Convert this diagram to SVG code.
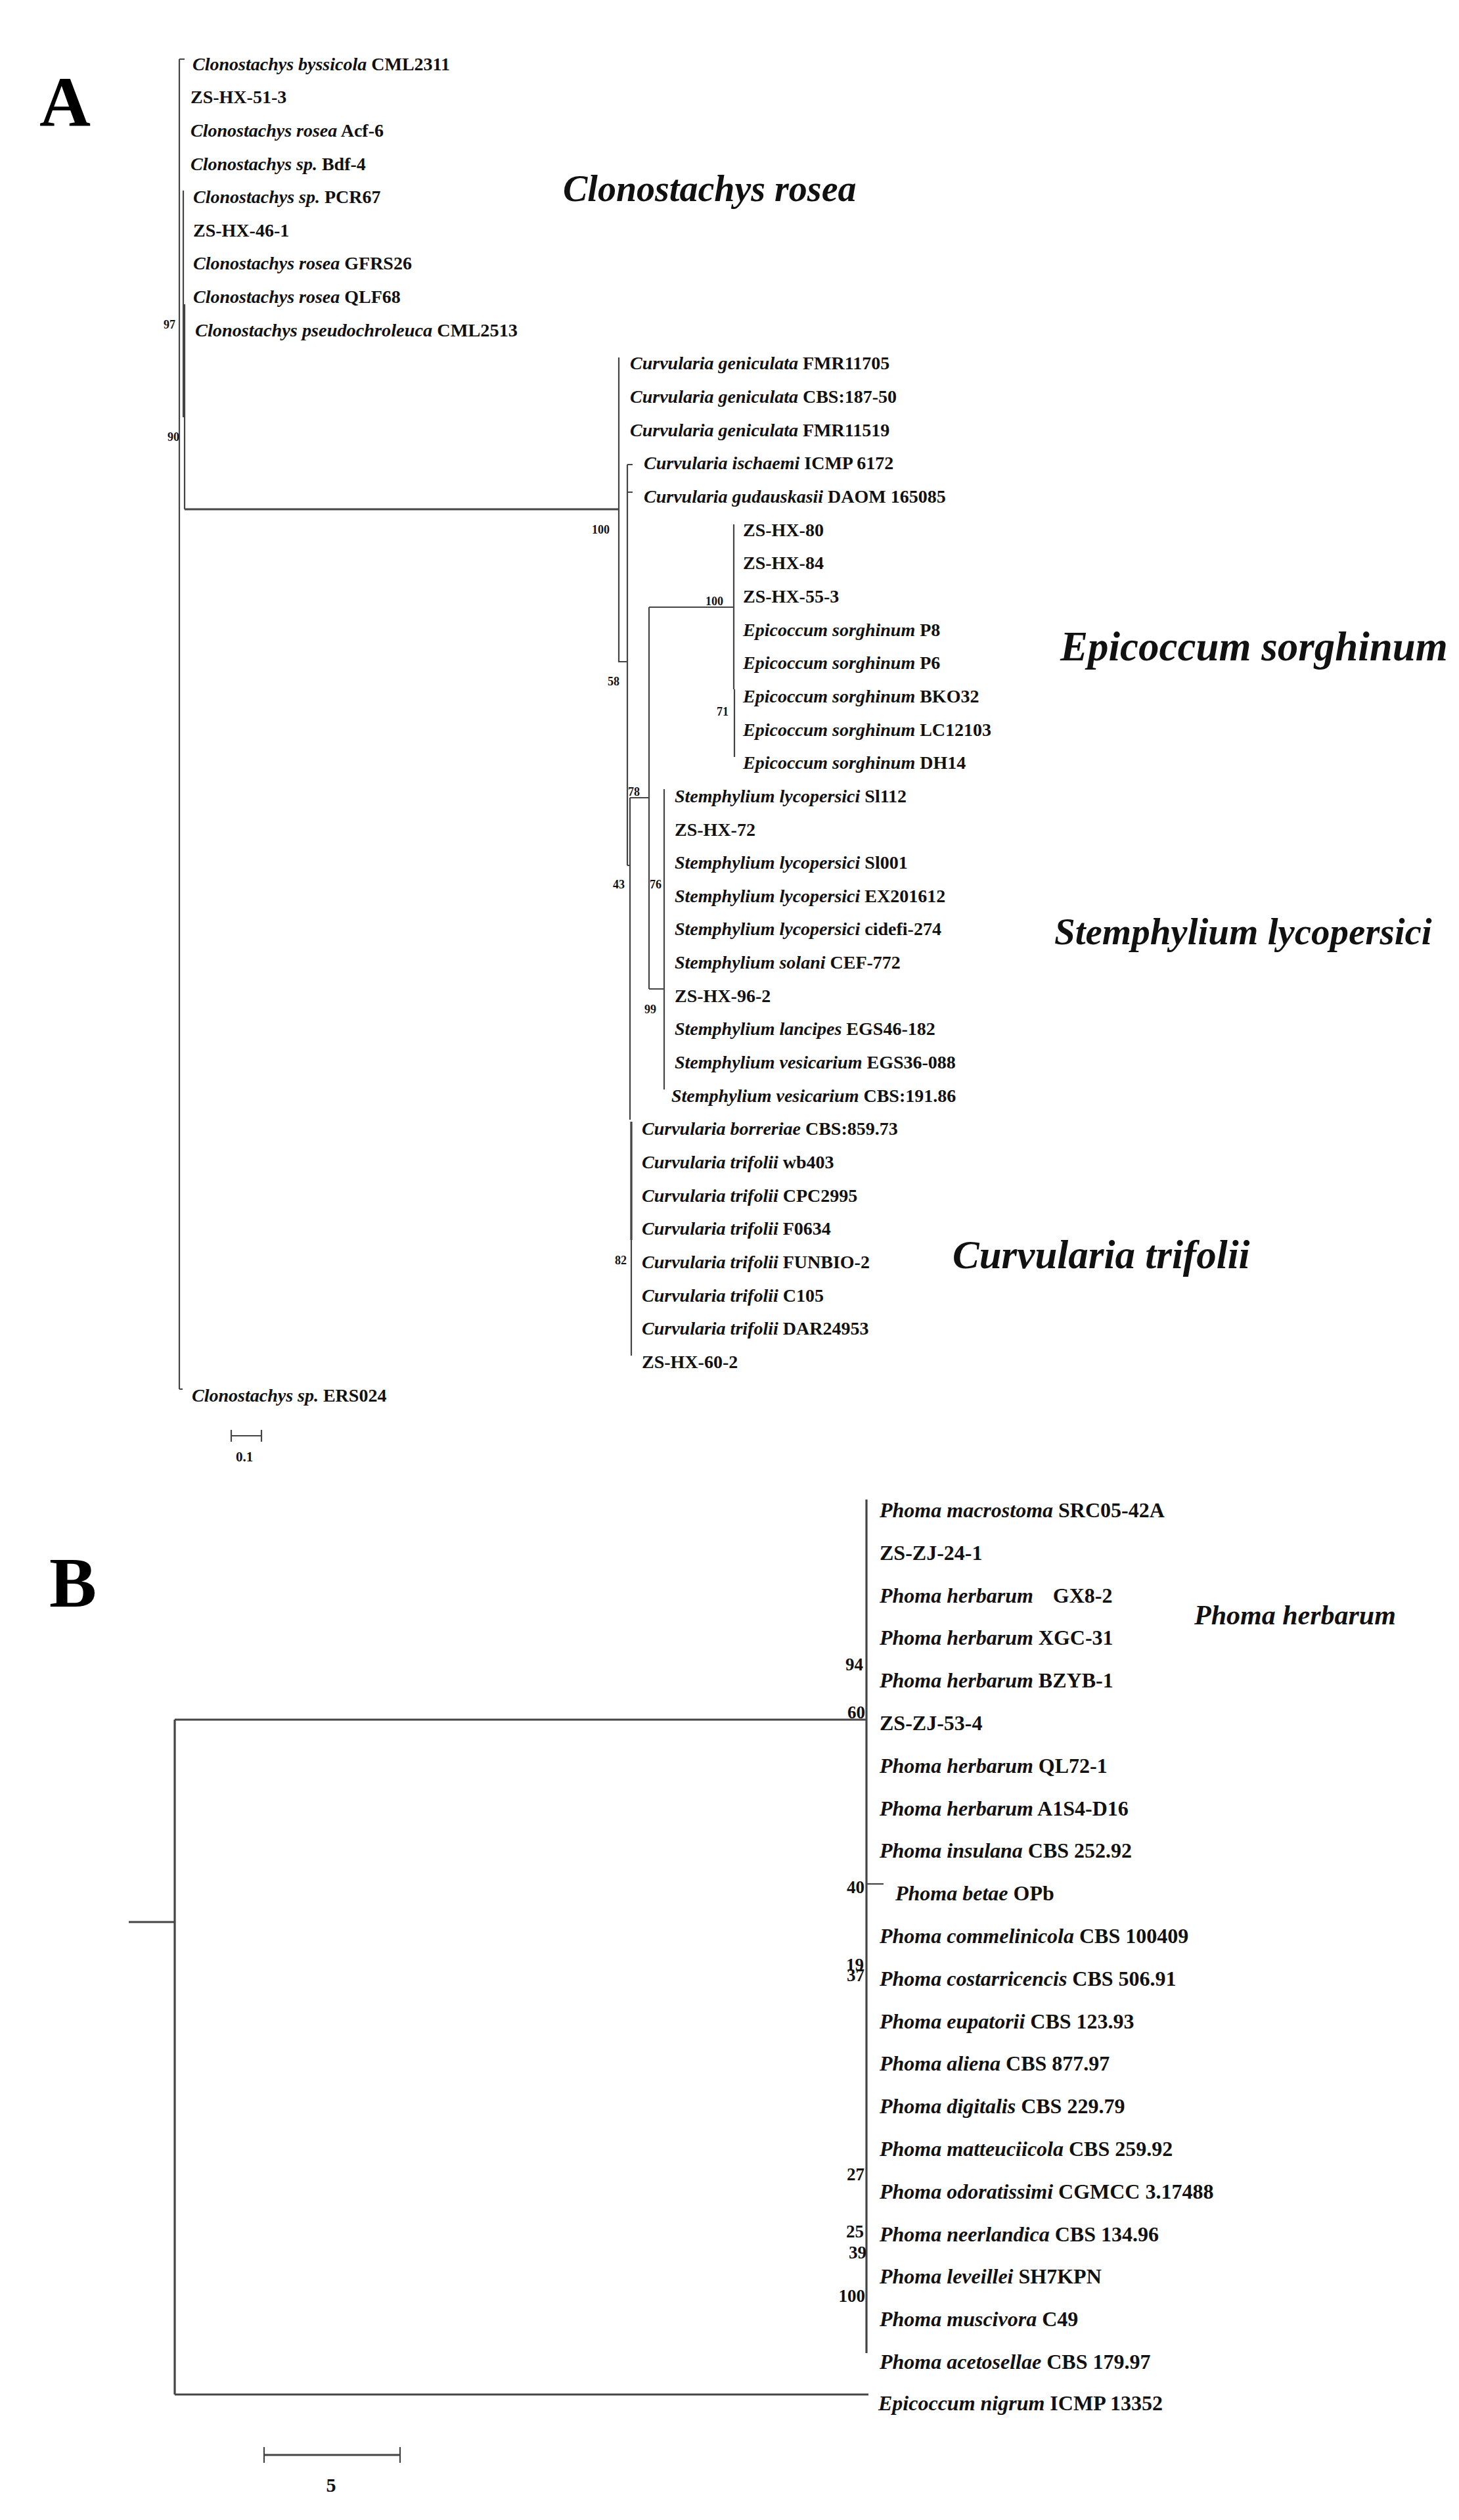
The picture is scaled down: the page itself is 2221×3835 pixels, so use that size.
<svg xmlns="http://www.w3.org/2000/svg" width="2221" height="3835" viewBox="0 0 2221 3835">
<style>
.t{font-family:"Liberation Serif","Times New Roman",serif;font-weight:bold;fill:#111}
.ta{font-size:28px}
.tb{font-size:32px}
.i{font-style:italic}
.sa{font-family:"Liberation Serif","Times New Roman",serif;font-weight:bold;font-size:18px;fill:#111;text-anchor:end}
.sb{font-family:"Liberation Serif","Times New Roman",serif;font-weight:bold;font-size:27px;fill:#111;text-anchor:end}
.grp{font-family:"Liberation Serif","Times New Roman",serif;font-weight:bold;font-style:italic;font-size:58px;fill:#111}
.pl{font-family:"Liberation Serif","Times New Roman",serif;font-weight:bold;font-size:108px;fill:#000}
.br{stroke:#444;stroke-width:2.2;fill:none}
.bw{stroke:#444;stroke-width:3.2;fill:none}
</style>
<rect width="2221" height="3835" fill="#fff"/>
<text class="pl" x="60" y="192">A</text>
<text class="pl" x="75" y="2445">B</text>

<g id="connectors">
<!-- Panel A -->
<path class="br" d="M273 90V2114M273 90h8M273 2114h5"/>
<path class="br" d="M279 290V635M281 463V775"/>
<path class="bw" d="M281 775H942"/>
<path class="br" d="M942 544V1007H955M955 707V1317M955 707h8M955 749h8M955 1317h4"/>
<path class="br" d="M959 1214V1704M959 1214H988M988 924V1505"/>
<path class="br" d="M988 924H1117M1117 798V1049M1118 1049V1152"/>
<path class="br" d="M988 1505H1011M1011 1201V1658"/>
<path class="br" d="M961 1707V2063"/>
<path class="bw" d="M961 1707V1887"/>
<!-- scale A -->
<path class="br" d="M352 2185H398M352 2176V2194M398 2176V2194"/>
<!-- Panel B -->
<path class="bw" d="M196 2925H266M266 2617V3644M266 2617H1319M266 3644H1322"/>
<path class="bw" d="M1319 2282V3581"/>
<path class="br" d="M1320 2867H1345"/>
<!-- scale B -->
<path class="bw" d="M402 3736H609"/>
<path class="br" d="M402 3724V3748M609 3724V3748"/>
</g>

<g id="support">
<text class="sa" x="267" y="500">97</text>
<text class="sa" x="273" y="671">90</text>
<text class="sa" x="928" y="812">100</text>
<text class="sa" x="943" y="1043">58</text>
<text class="sa" x="1101" y="921">100</text>
<text class="sa" x="1109" y="1089">71</text>
<text class="sa" x="974" y="1211">78</text>
<text class="sa" x="951" y="1352">43</text>
<text class="sa" x="1007" y="1352">76</text>
<text class="sa" x="999" y="1542">99</text>
<text class="sa" x="954" y="1924">82</text>
<text class="sb" x="1314" y="2542">94</text>
<text class="sb" x="1317" y="2615">60</text>
<text class="sb" x="1316" y="2881">40</text>
<text class="sb" x="1315" y="2999">19</text>
<text class="sb" x="1316" y="3015">37</text>
<text class="sb" x="1316" y="3318">27</text>
<text class="sb" x="1315" y="3405">25</text>
<text class="sb" x="1319" y="3437">39</text>
<text class="sb" x="1317" y="3503">100</text>
</g>

<g id="groups">
<text class="grp" x="857" y="306" style="font-size:56px">Clonostachys rosea</text>
<text class="grp" x="1614" y="1005" style="font-size:63px">Epicoccum sorghinum</text>
<text class="grp" x="1605" y="1437" style="font-size:57px">Stemphylium lycopersici</text>
<text class="grp" x="1450" y="1930" style="font-size:61px">Curvularia trifolii</text>
<text class="grp" x="1818" y="2472" style="font-size:42px">Phoma herbarum</text>
</g>

<g id="taxaA">
<g id="a1"><text class="t ta" x="293" y="106.5"><tspan class="i">Clonostachys byssicola</tspan> CML2311</text></g>
<g id="a2"><text class="t ta" x="290" y="157.2">ZS-HX-51-3</text></g>
<g id="a3"><text class="t ta" x="290" y="207.8"><tspan class="i">Clonostachys rosea</tspan> Acf-6</text></g>
<g id="a4"><text class="t ta" x="290" y="258.5"><tspan class="i">Clonostachys sp.</tspan> Bdf-4</text></g>
<g id="a5"><text class="t ta" x="294" y="309.1"><tspan class="i">Clonostachys sp.</tspan> PCR67</text></g>
<g id="a6"><text class="t ta" x="294" y="359.8">ZS-HX-46-1</text></g>
<g id="a7"><text class="t ta" x="294" y="410.4"><tspan class="i">Clonostachys rosea</tspan> GFRS26</text></g>
<g id="a8"><text class="t ta" x="294" y="461.1"><tspan class="i">Clonostachys rosea</tspan> QLF68</text></g>
<g id="a9"><text class="t ta" x="297" y="511.7" textLength="491" lengthAdjust="spacingAndGlyphs"><tspan class="i">Clonostachys pseudochroleuca</tspan> CML2513</text></g>
<g id="a10"><text class="t ta" x="959" y="562.4"><tspan class="i">Curvularia geniculata</tspan> FMR11705</text></g>
<g id="a11"><text class="t ta" x="959" y="613.0"><tspan class="i">Curvularia geniculata</tspan> CBS:187-50</text></g>
<g id="a12"><text class="t ta" x="959" y="663.7"><tspan class="i">Curvularia geniculata</tspan> FMR11519</text></g>
<g id="a13"><text class="t ta" x="980" y="714.3"><tspan class="i">Curvularia ischaemi</tspan> ICMP 6172</text></g>
<g id="a14"><text class="t ta" x="980" y="765.0"><tspan class="i">Curvularia gudauskasii</tspan> DAOM 165085</text></g>
<g id="a15"><text class="t ta" x="1131" y="815.6">ZS-HX-80</text></g>
<g id="a16"><text class="t ta" x="1131" y="866.3">ZS-HX-84</text></g>
<g id="a17"><text class="t ta" x="1131" y="916.9">ZS-HX-55-3</text></g>
<g id="a18"><text class="t ta" x="1131" y="967.6"><tspan class="i">Epicoccum sorghinum</tspan> P8</text></g>
<g id="a19"><text class="t ta" x="1131" y="1018.2"><tspan class="i">Epicoccum sorghinum</tspan> P6</text></g>
<g id="a20"><text class="t ta" x="1131" y="1068.9"><tspan class="i">Epicoccum sorghinum</tspan> BKO32</text></g>
<g id="a21"><text class="t ta" x="1131" y="1119.5"><tspan class="i">Epicoccum sorghinum</tspan> LC12103</text></g>
<g id="a22"><text class="t ta" x="1131" y="1170.2"><tspan class="i">Epicoccum sorghinum</tspan> DH14</text></g>
<g id="a23"><text class="t ta" x="1027" y="1220.8"><tspan class="i">Stemphylium lycopersici</tspan> Sl112</text></g>
<g id="a24"><text class="t ta" x="1027" y="1271.5">ZS-HX-72</text></g>
<g id="a25"><text class="t ta" x="1027" y="1322.1"><tspan class="i">Stemphylium lycopersici</tspan> Sl001</text></g>
<g id="a26"><text class="t ta" x="1027" y="1372.8"><tspan class="i">Stemphylium lycopersici</tspan> EX201612</text></g>
<g id="a27"><text class="t ta" x="1027" y="1423.4"><tspan class="i">Stemphylium lycopersici</tspan> cidefi-274</text></g>
<g id="a28"><text class="t ta" x="1027" y="1474.1"><tspan class="i">Stemphylium solani</tspan> CEF-772</text></g>
<g id="a29"><text class="t ta" x="1027" y="1524.7">ZS-HX-96-2</text></g>
<g id="a30"><text class="t ta" x="1027" y="1575.4"><tspan class="i">Stemphylium lancipes</tspan> EGS46-182</text></g>
<g id="a31"><text class="t ta" x="1027" y="1626.0"><tspan class="i">Stemphylium vesicarium</tspan> EGS36-088</text></g>
<g id="a32"><text class="t ta" x="1022" y="1676.7"><tspan class="i">Stemphylium vesicarium</tspan> CBS:191.86</text></g>
<g id="a33"><text class="t ta" x="977" y="1727.3"><tspan class="i">Curvularia borreriae</tspan> CBS:859.73</text></g>
<g id="a34"><text class="t ta" x="977" y="1778.0"><tspan class="i">Curvularia trifolii</tspan> wb403</text></g>
<g id="a35"><text class="t ta" x="977" y="1828.6"><tspan class="i">Curvularia trifolii</tspan> CPC2995</text></g>
<g id="a36"><text class="t ta" x="977" y="1879.3"><tspan class="i">Curvularia trifolii</tspan> F0634</text></g>
<g id="a37"><text class="t ta" x="977" y="1929.9"><tspan class="i">Curvularia trifolii</tspan> FUNBIO-2</text></g>
<g id="a38"><text class="t ta" x="977" y="1980.6"><tspan class="i">Curvularia trifolii</tspan> C105</text></g>
<g id="a39"><text class="t ta" x="977" y="2031.2"><tspan class="i">Curvularia trifolii</tspan> DAR24953</text></g>
<g id="a40"><text class="t ta" x="977" y="2081.9">ZS-HX-60-2</text></g>
<g id="a41"><text class="t ta" x="292" y="2132.5"><tspan class="i">Clonostachys sp.</tspan> ERS024</text></g>
<text class="t" x="372" y="2224" style="font-size:21px" text-anchor="middle">0.1</text>
</g>

<g id="taxaB">
<g id="b0"><text class="t tb" x="1339" y="2309"><tspan class="i">Phoma macrostoma</tspan> SRC05-42A</text></g>
<g id="b1"><text class="t tb" x="1339" y="2373.8">ZS-ZJ-24-1</text></g>
<g id="b2"><text class="t tb" x="1339" y="2438.6"><tspan class="i">Phoma herbarum</tspan><tspan dx="30">GX8-2</tspan></text></g>
<g id="b3"><text class="t tb" x="1339" y="2503.4"><tspan class="i">Phoma herbarum</tspan> XGC-31</text></g>
<g id="b4"><text class="t tb" x="1339" y="2568.2"><tspan class="i">Phoma herbarum</tspan> BZYB-1</text></g>
<g id="b5"><text class="t tb" x="1339" y="2633">ZS-ZJ-53-4</text></g>
<g id="b6"><text class="t tb" x="1339" y="2697.8"><tspan class="i">Phoma herbarum</tspan> QL72-1</text></g>
<g id="b7"><text class="t tb" x="1339" y="2762.6"><tspan class="i">Phoma herbarum</tspan> A1S4-D16</text></g>
<g id="b8"><text class="t tb" x="1339" y="2827.4"><tspan class="i">Phoma insulana</tspan> CBS 252.92</text></g>
<g id="b9"><text class="t tb" x="1363" y="2892.2"><tspan class="i">Phoma betae</tspan> OPb</text></g>
<g id="b10"><text class="t tb" x="1339" y="2957"><tspan class="i">Phoma commelinicola</tspan> CBS 100409</text></g>
<g id="b11"><text class="t tb" x="1339" y="3021.8"><tspan class="i">Phoma costarricencis</tspan> CBS 506.91</text></g>
<g id="b12"><text class="t tb" x="1339" y="3086.6"><tspan class="i">Phoma eupatorii</tspan> CBS 123.93</text></g>
<g id="b13"><text class="t tb" x="1339" y="3151.4"><tspan class="i">Phoma aliena</tspan> CBS 877.97</text></g>
<g id="b14"><text class="t tb" x="1339" y="3216.2"><tspan class="i">Phoma digitalis</tspan> CBS 229.79</text></g>
<g id="b15"><text class="t tb" x="1339" y="3281"><tspan class="i">Phoma matteuciicola</tspan> CBS 259.92</text></g>
<g id="b16"><text class="t tb" x="1339" y="3345.8"><tspan class="i">Phoma odoratissimi</tspan> CGMCC 3.17488</text></g>
<g id="b17"><text class="t tb" x="1339" y="3410.6"><tspan class="i">Phoma neerlandica</tspan> CBS 134.96</text></g>
<g id="b18"><text class="t tb" x="1339" y="3475.4"><tspan class="i">Phoma leveillei</tspan> SH7KPN</text></g>
<g id="b19"><text class="t tb" x="1339" y="3540.2"><tspan class="i">Phoma muscivora</tspan> C49</text></g>
<g id="b20"><text class="t tb" x="1339" y="3605"><tspan class="i">Phoma acetosellae</tspan> CBS 179.97</text></g>
<g id="b21"><text class="t tb" x="1337" y="3668"><tspan class="i">Epicoccum nigrum</tspan> ICMP 13352</text></g>
<text class="t" x="504" y="3792" style="font-size:30px" text-anchor="middle">5</text>
</g>
</svg>
